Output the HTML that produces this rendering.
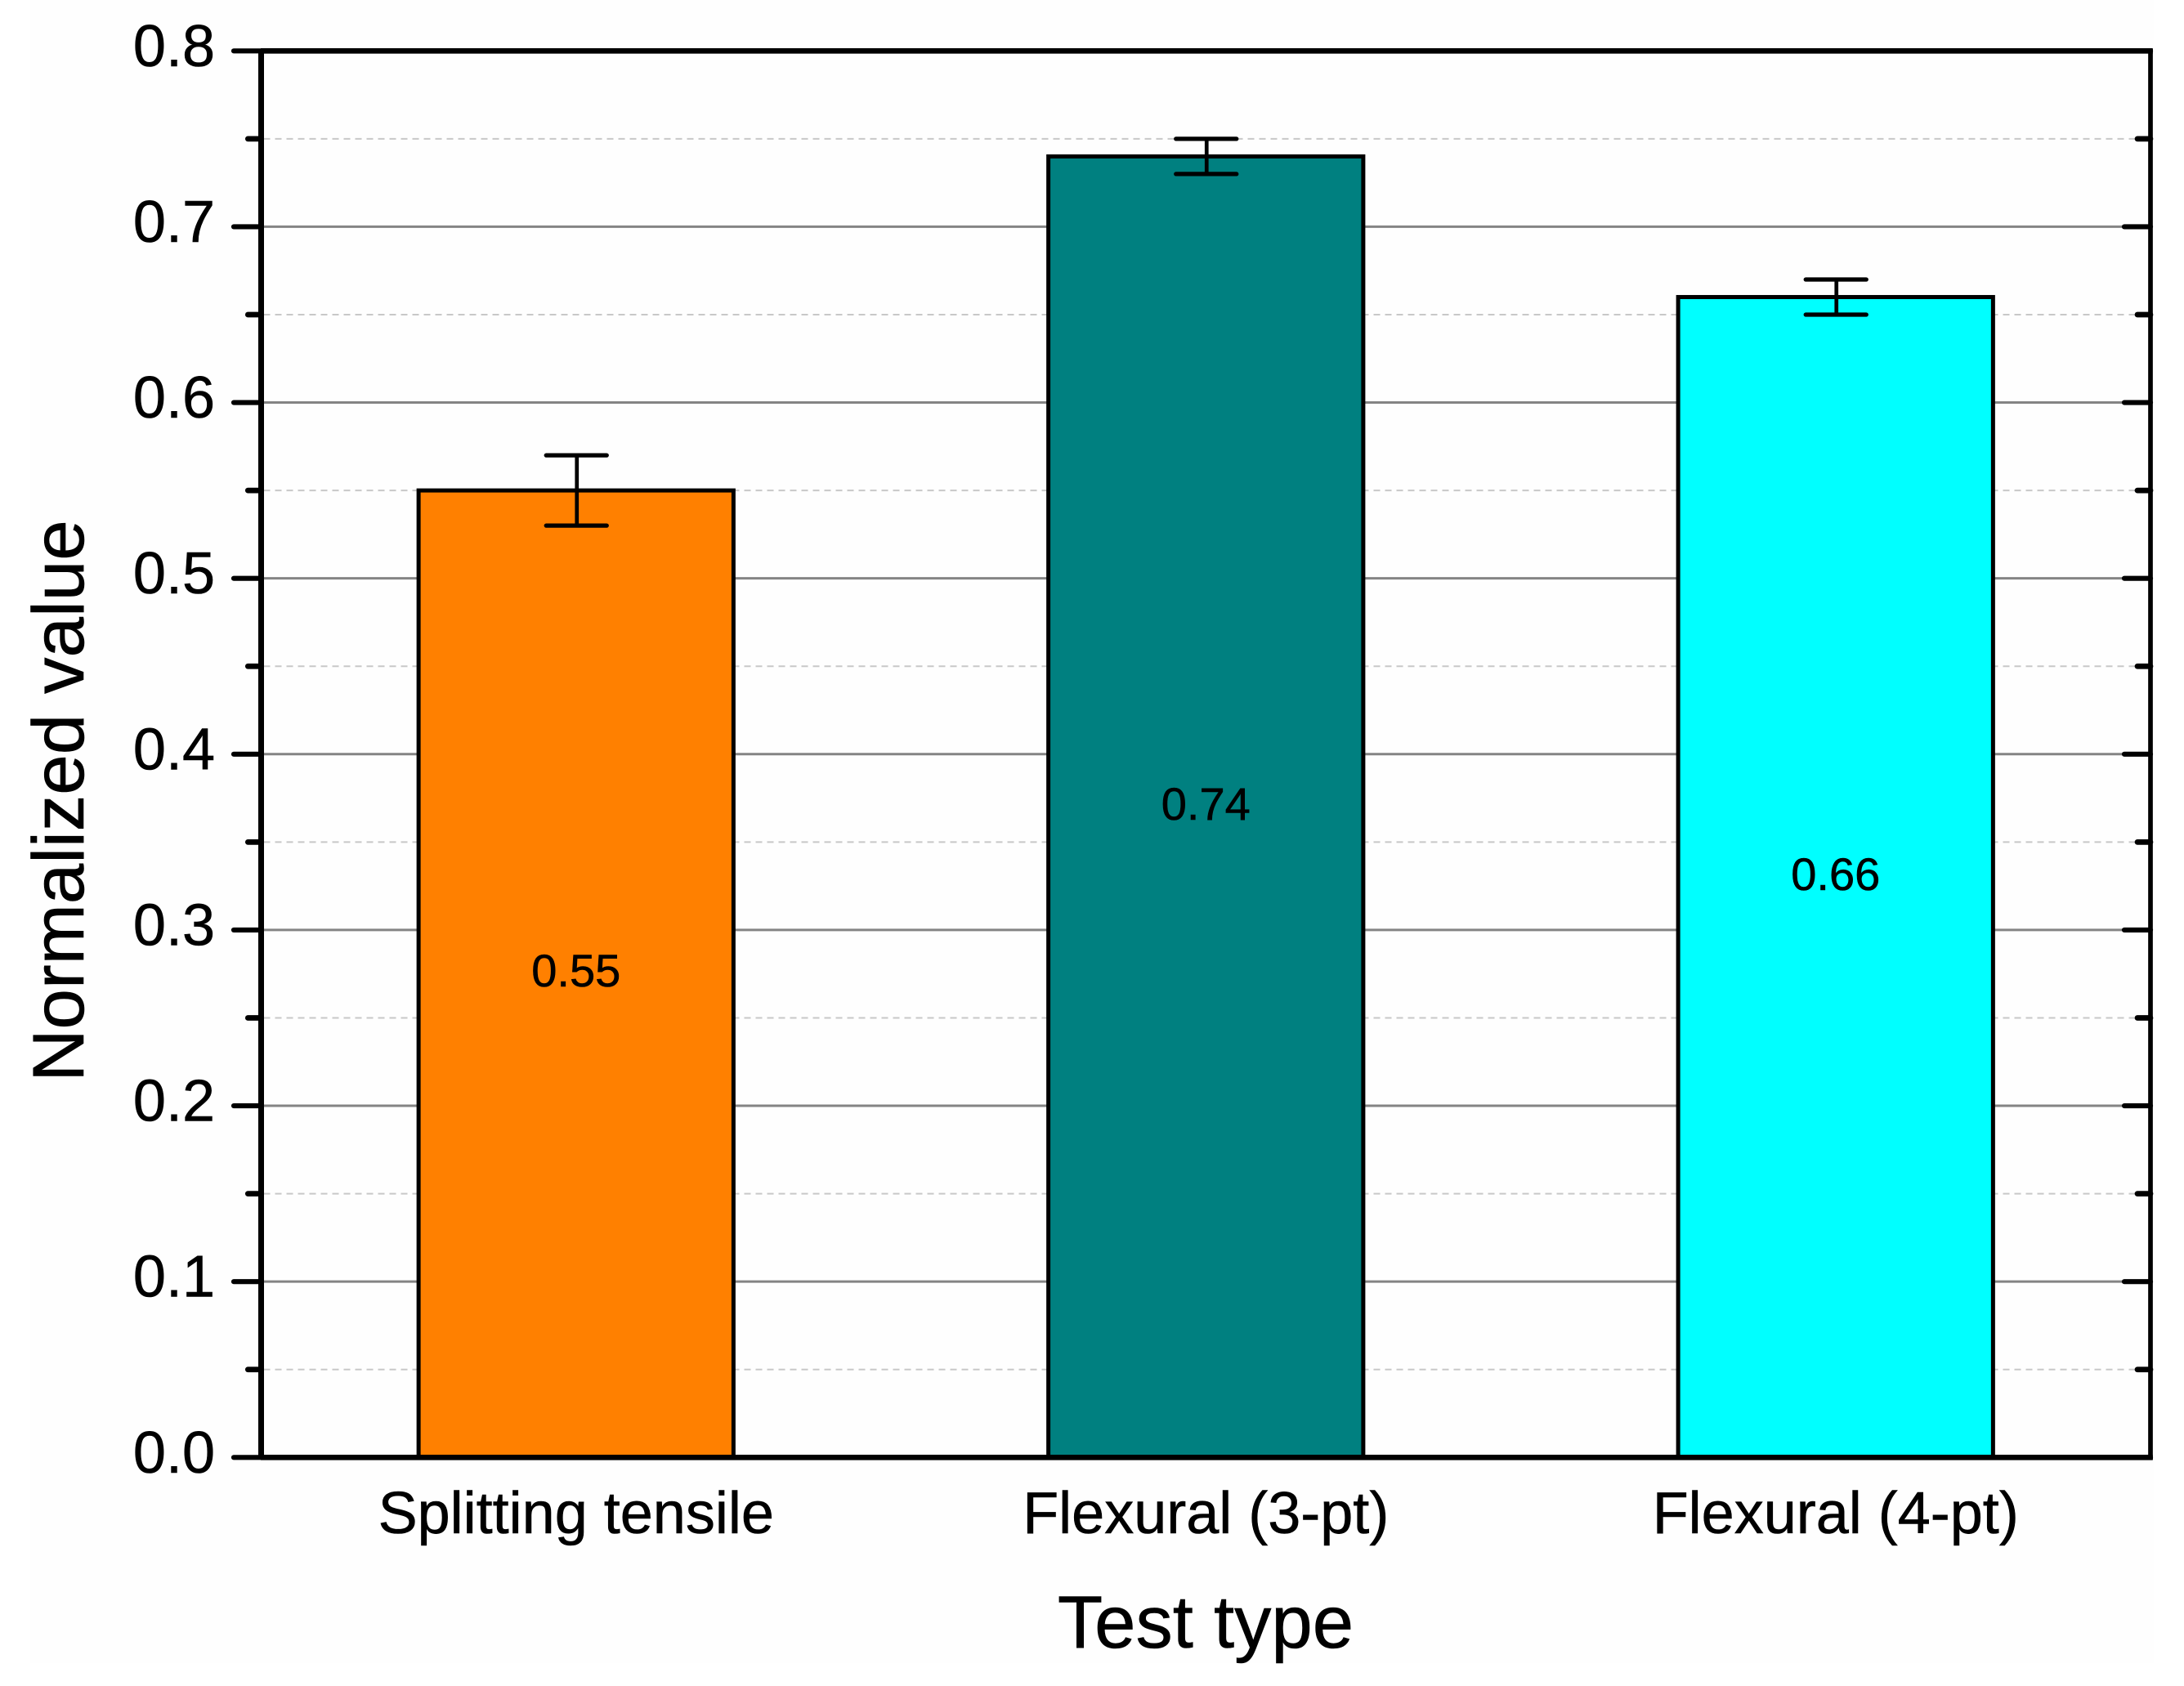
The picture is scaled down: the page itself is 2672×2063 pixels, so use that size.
<!DOCTYPE html>
<html lang="en">
<head>
<meta charset="utf-8">
<title>Normalized value by test type</title>
<style>
html,body{margin:0;padding:0;background:#fff;}
svg{display:block;}
text{font-family:"Liberation Sans",Arial,sans-serif;fill:#000;stroke:#000;stroke-width:0.6px;}
</style>
</head>
<body>
<svg id="chart" xmlns="http://www.w3.org/2000/svg" width="2672" height="2063" viewBox="0 0 2672 2063">
  <rect x="37" y="0" width="2598" height="2035" fill="#fefefe"/>
  <g id="grid"></g>
  <g id="bars"></g>
  <g id="errors"></g>
  <g id="values"></g>
  <g id="ticks"></g>
  <g id="frame">
    <line x1="319.5" y1="60" x2="319.5" y2="1786" stroke="#000" stroke-width="7"/>
    <line x1="2631" y1="60" x2="2631" y2="1786" stroke="#000" stroke-width="5.7"/>
    <line x1="319" y1="62.3" x2="2633.8" y2="62.3" stroke="#000" stroke-width="6.7"/>
    <line x1="319" y1="1783.3" x2="2633.8" y2="1783.3" stroke="#000" stroke-width="6.7"/>
  </g>
  <g id="ylabels"></g>
  <g id="xlabels"></g>
  <text x="1475" y="2016" font-size="90.5" text-anchor="middle">Test type</text>
  <text transform="translate(102 980) rotate(-90)" font-size="89" text-anchor="middle">Normalized value</text>
</svg>
<script>
const categories = ["Splitting tensile", "Flexural (3-pt)", "Flexural (4-pt)"];
const seriesValues = [0.55, 0.74, 0.66];
const errorValues = [0.02, 0.01, 0.01];
const valueLabels = ["0.55", "0.74", "0.66"];
const barColors = ["#ff8000", "#008080", "#00ffff"];
const majorTicks = [0.0, 0.1, 0.2, 0.3, 0.4, 0.5, 0.6, 0.7, 0.8];
const majorTickLabels = ["0.0", "0.1", "0.2", "0.3", "0.4", "0.5", "0.6", "0.7", "0.8"];
const minorTicks = [0.05, 0.15, 0.25, 0.35, 0.45, 0.55, 0.65, 0.75];

const NS = "http://www.w3.org/2000/svg";
const PLOT_LEFT = 319.5, PLOT_RIGHT = 2631, PLOT_TOP = 62.3, PLOT_BOTTOM = 1783.3;
const Y_MAX = 0.8, BAR_SPAN = 0.5, CAP_HALF = 37;

function xScale(i) {
  return PLOT_LEFT + (i + 0.5) * (PLOT_RIGHT - PLOT_LEFT) / categories.length;
}
function yScale(v) {
  return PLOT_BOTTOM - (v / Y_MAX) * (PLOT_BOTTOM - PLOT_TOP);
}
function seg(parent, x1, y1, x2, y2, stroke, width) {
  const el = document.createElementNS(NS, "line");
  el.setAttribute("x1", x1);
  el.setAttribute("y1", y1);
  el.setAttribute("x2", x2);
  el.setAttribute("y2", y2);
  el.setAttribute("stroke", stroke);
  el.setAttribute("stroke-width", width);
  parent.appendChild(el);
  return el;
}
function label(parent, x, y, size, anchor, content) {
  const el = document.createElementNS(NS, "text");
  el.setAttribute("x", x);
  el.setAttribute("y", y);
  el.setAttribute("font-size", size);
  el.setAttribute("text-anchor", anchor);
  el.textContent = content;
  parent.appendChild(el);
  return el;
}

const gridG = document.getElementById("grid");
const barsG = document.getElementById("bars");
const errorsG = document.getElementById("errors");
const valuesG = document.getElementById("values");
const ticksG = document.getElementById("ticks");
const yLabelsG = document.getElementById("ylabels");
const xLabelsG = document.getElementById("xlabels");

minorTicks.forEach(function (v) {
  const y = yScale(v);
  const grid = seg(gridG, PLOT_LEFT + 3, y, PLOT_RIGHT - 3, y, "#c8c8c8", 2);
  grid.setAttribute("stroke-dasharray", "8 6");
  
  
  const left = seg(ticksG, 303.3, y, PLOT_LEFT, y, "#000", 6.7);
  left.setAttribute("stroke-linecap", "round");
  
  
  const right = seg(ticksG, 2615, y, PLOT_RIGHT, y, "#000", 6.7);
  right.setAttribute("stroke-linecap", "round");
  
  
});

majorTicks.forEach(function (v, i) {
  const y = yScale(v);
  if (v > 0 && v < Y_MAX) {
    const grid = seg(gridG, PLOT_LEFT + 3, y, PLOT_RIGHT - 3, y, "#848484", 3);
    
    
  }
  const left = seg(ticksG, 286, y, PLOT_LEFT, y, "#000", 6.2);
  left.setAttribute("stroke-linecap", "round");
  
  
  const right = seg(ticksG, 2599, y, PLOT_RIGHT, y, "#000", 6.2);
  right.setAttribute("stroke-linecap", "round");
  
  
  const txt = label(yLabelsG, 263, y + 18.5, 72, "end", majorTickLabels[i]);
  
  
});

categories.forEach(function (name, i) {
  const cx = xScale(i);
  const v = seriesValues[i];
  const w = BAR_SPAN * (PLOT_RIGHT - PLOT_LEFT) / categories.length;

  const bar = document.createElementNS(NS, "rect");
  bar.setAttribute("x", cx - w / 2);
  bar.setAttribute("y", yScale(v));
  bar.setAttribute("width", w);
  bar.setAttribute("height", yScale(0) - yScale(v));
  bar.setAttribute("fill", barColors[i]);
  bar.setAttribute("stroke", "#000");
  bar.setAttribute("stroke-width", 5);
  
  
  barsG.appendChild(bar);

  const hi = yScale(v + errorValues[i]);
  const lo = yScale(v - errorValues[i]);
  const stem = seg(errorsG, cx + 1, hi, cx + 1, lo, "#000", 4.7);
  
  
  const capTop = seg(errorsG, cx - CAP_HALF + 0.5, hi, cx + CAP_HALF + 0.5, hi, "#000", 5.3);
  capTop.setAttribute("stroke-linecap", "round");
  
  
  const capBottom = seg(errorsG, cx - CAP_HALF + 0.5, lo, cx + CAP_HALF + 0.5, lo, "#000", 5.3);
  capBottom.setAttribute("stroke-linecap", "round");
  
  

  const val = label(valuesG, cx, yScale(v / 2) + 15.5, 56, "middle", valueLabels[i]);
  
  

  const cat = label(xLabelsG, cx, 1876, 72, "middle", name);
  
  
});
</script>
</body>
</html>
